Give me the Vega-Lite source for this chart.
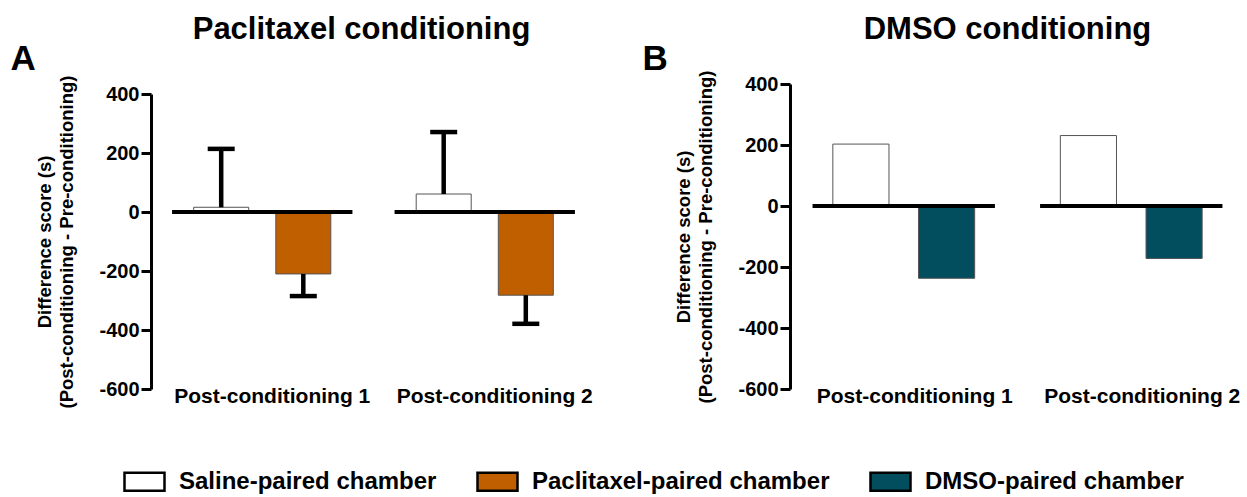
{
  "$schema": "https://vega.github.io/schema/vega-lite/v6.json",
  "background": "white",
  "padding": {"left": 10, "top": 14, "right": 0, "bottom": 0},
  "config": {
    "font": "Liberation Sans",
    "view": {"stroke": null},
    "axis": {"labelFont": "Liberation Sans", "titleFont": "Liberation Sans", "labelColor": "black", "titleColor": "black", "grid": false},
    "title": {"font": "Liberation Sans", "color": "black"},
    "legend": {"labelFont": "Liberation Sans", "labelColor": "black"}
  },
  "datasets": {
    "a": [
      {"group": "Post-conditioning 1", "chamber": "Saline-paired chamber", "value": 16, "err": 214},
      {"group": "Post-conditioning 1", "chamber": "Paclitaxel-paired chamber", "value": -210, "err": -285},
      {"group": "Post-conditioning 2", "chamber": "Saline-paired chamber", "value": 61, "err": 271},
      {"group": "Post-conditioning 2", "chamber": "Paclitaxel-paired chamber", "value": -282, "err": -379}
    ],
    "b": [
      {"group": "Post-conditioning 1", "chamber": "Saline-paired chamber", "value": 203},
      {"group": "Post-conditioning 1", "chamber": "DMSO-paired chamber", "value": -237},
      {"group": "Post-conditioning 2", "chamber": "Saline-paired chamber", "value": 231},
      {"group": "Post-conditioning 2", "chamber": "DMSO-paired chamber", "value": -172}
    ]
  },
  "spacing": 46,
  "resolve": {"scale": {"x": "independent", "y": "independent", "xOffset": "independent"}},
  "hconcat": [
    {
      "width": 445,
      "height": 295,
      "data": {"name": "a"},
      "title": {"text": "Paclitaxel conditioning", "fontSize": 31, "fontWeight": "bold", "frame": "group", "anchor": "middle", "dx": -12, "offset": -5},
      "layer": [
        {
          "mark": {"type": "bar", "stroke": "#555555", "strokeWidth": 1},
          "encoding": {
            "x": {"field": "group", "type": "nominal", "scale": {"paddingInner": 0, "paddingOuter": 0},
                  "axis": {"orient": "bottom", "title": null, "domain": false, "ticks": false, "labelAngle": 0, "labelFontSize": 21, "labelFontWeight": "bold", "labelPadding": -4, "labelLimit": 0, "labelOffset": 10}},
            "xOffset": {"field": "chamber", "type": "nominal", "scale": {"domain": ["Saline-paired chamber", "Paclitaxel-paired chamber"], "paddingInner": 0.33, "paddingOuter": 0.52}},
            "y": {"field": "value", "type": "quantitative", "scale": {"domain": [-600, 400], "nice": false},
                  "axis": {"orient": "left", "values": [-600, -400, -200, 0, 200, 400], "labelExpr": "datum.value < 0 ? '-' + abs(datum.value) : '' + datum.value",
                           "domainColor": "black", "domainWidth": 3, "tickColor": "black", "tickWidth": 3, "tickSize": 10,
                           "labelFontSize": 20, "labelFontWeight": "bold", "labelPadding": 2,
                           "title": ["Difference score (s)", "(Post-conditioning - Pre-conditioning)"],
                           "titleFontSize": 18.5, "titleFontWeight": "bold", "titleLineHeight": 22, "titlePadding": 22}},
            "color": {"field": "chamber", "type": "nominal",
                      "scale": {"domain": ["Saline-paired chamber", "Paclitaxel-paired chamber", "DMSO-paired chamber"], "range": ["#ffffff", "#c05f00", "#034e5e"]},
                      "legend": {"orient": "none", "legendX": -28, "legendY": 366, "direction": "horizontal", "columns": 3, "title": null,
                                 "symbolType": "M-1,-0.45H1V0.45H-1Z", "symbolSize": 1600, "symbolStrokeColor": "black", "symbolStrokeWidth": 2.5,
                                 "labelFontSize": 24, "labelFontWeight": "bold", "labelOffset": 13, "labelLimit": 0, "columnPadding": 35, "padding": 0, "symbolOffset": 0}}
          }
        },
        {
          "mark": {"type": "tick", "orient": "horizontal", "color": "black", "thickness": 4, "size": 180, "opacity": 1},
          "encoding": {
            "x": {"field": "group", "type": "nominal",
                  "axis": {"orient": "top", "labels": false, "ticks": false, "domain": false, "title": "A", "titleFontSize": 35, "titleFontWeight": "bold",
                           "titleX": -141, "titleY": -25, "titleAlign": "left", "titleBaseline": "alphabetic", "titleAngle": 0}},
            "y": {"datum": 0, "type": "quantitative"}
          }
        },
        {
          "mark": {"type": "rule", "color": "black", "strokeWidth": 4.5},
          "encoding": {
            "x": {"field": "group", "type": "nominal", "axis": null},
            "xOffset": {"field": "chamber", "type": "nominal"},
            "y": {"field": "value", "type": "quantitative"},
            "y2": {"field": "err"}
          }
        },
        {
          "mark": {"type": "tick", "orient": "horizontal", "color": "black", "thickness": 4.5, "size": 27, "opacity": 1},
          "encoding": {
            "x": {"field": "group", "type": "nominal", "axis": null},
            "xOffset": {"field": "chamber", "type": "nominal"},
            "y": {"field": "err", "type": "quantitative"}
          }
        }
      ]
    },
    {
      "width": 455,
      "height": 295,
      "data": {"name": "b"},
      "title": {"text": "DMSO conditioning", "fontSize": 31, "fontWeight": "bold", "frame": "group", "anchor": "middle", "dx": -10, "offset": -5},
      "layer": [
        {
          "mark": {"type": "bar", "stroke": "#555555", "strokeWidth": 1},
          "encoding": {
            "x": {"field": "group", "type": "nominal", "scale": {"paddingInner": 0, "paddingOuter": 0},
                  "axis": {"orient": "bottom", "title": null, "domain": false, "ticks": false, "labelAngle": 0, "labelFontSize": 21, "labelFontWeight": "bold", "labelPadding": -4, "labelLimit": 0, "labelOffset": 11}},
            "xOffset": {"field": "chamber", "type": "nominal", "scale": {"domain": ["Saline-paired chamber", "DMSO-paired chamber"], "paddingInner": 0.345, "paddingOuter": 0.5}},
            "y": {"field": "value", "type": "quantitative", "scale": {"domain": [-600, 400], "nice": false, "range": [295, -10]},
                  "axis": {"orient": "left", "values": [-600, -400, -200, 0, 200, 400], "labelExpr": "datum.value < 0 ? '-' + abs(datum.value) : '' + datum.value",
                           "domainColor": "black", "domainWidth": 3, "tickColor": "black", "tickWidth": 3, "tickSize": 10,
                           "labelFontSize": 20, "labelFontWeight": "bold", "labelPadding": 2,
                           "title": ["Difference score (s)", "(Post-conditioning - Pre-conditioning)"],
                           "titleFontSize": 18.5, "titleFontWeight": "bold", "titleLineHeight": 22, "titlePadding": 22}},
            "color": {"field": "chamber", "type": "nominal",
                      "scale": {"domain": ["Saline-paired chamber", "Paclitaxel-paired chamber", "DMSO-paired chamber"], "range": ["#ffffff", "#c05f00", "#034e5e"]},
                      "legend": {"orient": "none", "legendX": -28, "legendY": 366, "direction": "horizontal", "columns": 3, "title": null,
                                 "symbolType": "M-1,-0.45H1V0.45H-1Z", "symbolSize": 1600, "symbolStrokeColor": "black", "symbolStrokeWidth": 2.5,
                                 "labelFontSize": 24, "labelFontWeight": "bold", "labelOffset": 13, "labelLimit": 0, "columnPadding": 35, "padding": 0, "symbolOffset": 0}}
          }
        },
        {
          "mark": {"type": "tick", "orient": "horizontal", "color": "black", "thickness": 4, "size": 182, "opacity": 1},
          "encoding": {
            "x": {"field": "group", "type": "nominal",
                  "axis": {"orient": "top", "labels": false, "ticks": false, "domain": false, "title": "B", "titleFontSize": 35, "titleFontWeight": "bold",
                           "titleX": -148, "titleY": -25, "titleAlign": "left", "titleBaseline": "alphabetic", "titleAngle": 0}},
            "y": {"datum": 0, "type": "quantitative"}
          }
        }
      ]
    }
  ]
}
